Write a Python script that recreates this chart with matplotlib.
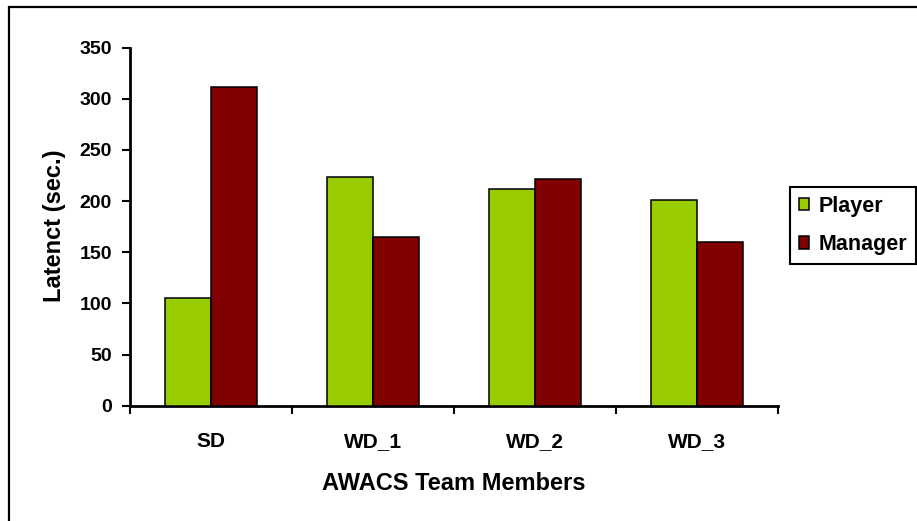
import matplotlib
matplotlib.use("Agg")
import matplotlib.pyplot as plt
import numpy as np
from matplotlib.patches import Rectangle

categories = ["SD", "WD_1", "WD_2", "WD_3"]
player = [105, 224, 212, 201]
manager = [312, 165, 222, 160]
yticks = [0, 50, 100, 150, 200, 250, 300, 350]

W, H = 917, 521
plt.rcParams['font.family'] = ['Liberation Sans', 'DejaVu Sans']
plt.rcParams['font.weight'] = 'bold'

fig = plt.figure(figsize=(W / 100, H / 100), dpi=100)
ax = fig.add_axes([130 / W, 1 - 405.7 / H, 648 / W, 358 / H])

x = np.arange(len(categories))
bw = 1 / 3.5
ax.bar(x - bw / 2, player, width=bw, color="#99CC00", edgecolor="black", linewidth=1.1, label="Player", zorder=3)
ax.bar(x + bw / 2, manager, width=bw, color="#800000", edgecolor="black", linewidth=1.1, label="Manager", zorder=3)

ax.set_xlim(-0.5, 3.5)
ax.set_ylim(0, 350)
ax.set_yticks(yticks)
ax.set_yticklabels([str(v) for v in yticks], fontsize=14, fontweight='bold')
ax.set_xticks(x)
ax.set_xticklabels(categories, fontsize=15, fontweight='bold')
ax.set_xticks(np.arange(-0.5, 4.0, 1.0), minor=True)
ax.tick_params(axis='x', which='major', length=0, pad=19)
ax.tick_params(axis='x', which='minor', length=6, width=1.5, direction='out')
ax.tick_params(axis='y', which='major', length=6, width=1.5, direction='out', pad=7)

for s in ['top', 'right']:
    ax.spines[s].set_visible(False)
for s in ['left', 'bottom']:
    ax.spines[s].set_linewidth(2)

fig.text(454 / W, 1 - 484 / H, "AWACS Team Members", ha='center', va='center', fontsize=17, fontweight='bold')
fig.text(54 / W, 1 - 226 / H, "Latenct (sec.)", ha='center', va='center', rotation=90, fontsize=17, fontweight='bold')

leg = ax.legend(loc='upper left', bbox_to_anchor=(790 / W, 1 - 187 / H), bbox_transform=fig.transFigure,
                borderaxespad=0, fancybox=False, framealpha=1, edgecolor='black',
                prop={'size': 15.5, 'weight': 'bold'}, handlelength=0.5, handleheight=0.5,
                handletextpad=0.45, labelspacing=0.82, borderpad=0.4)
leg.get_frame().set_linewidth(1.5)

fig.patches.append(Rectangle((9 / W, -0.1), 2, 1.1 - 7 / H, transform=fig.transFigure,
                             fill=False, edgecolor='black', linewidth=1.6, clip_on=False))

fig.savefig("out.png", dpi=100)
